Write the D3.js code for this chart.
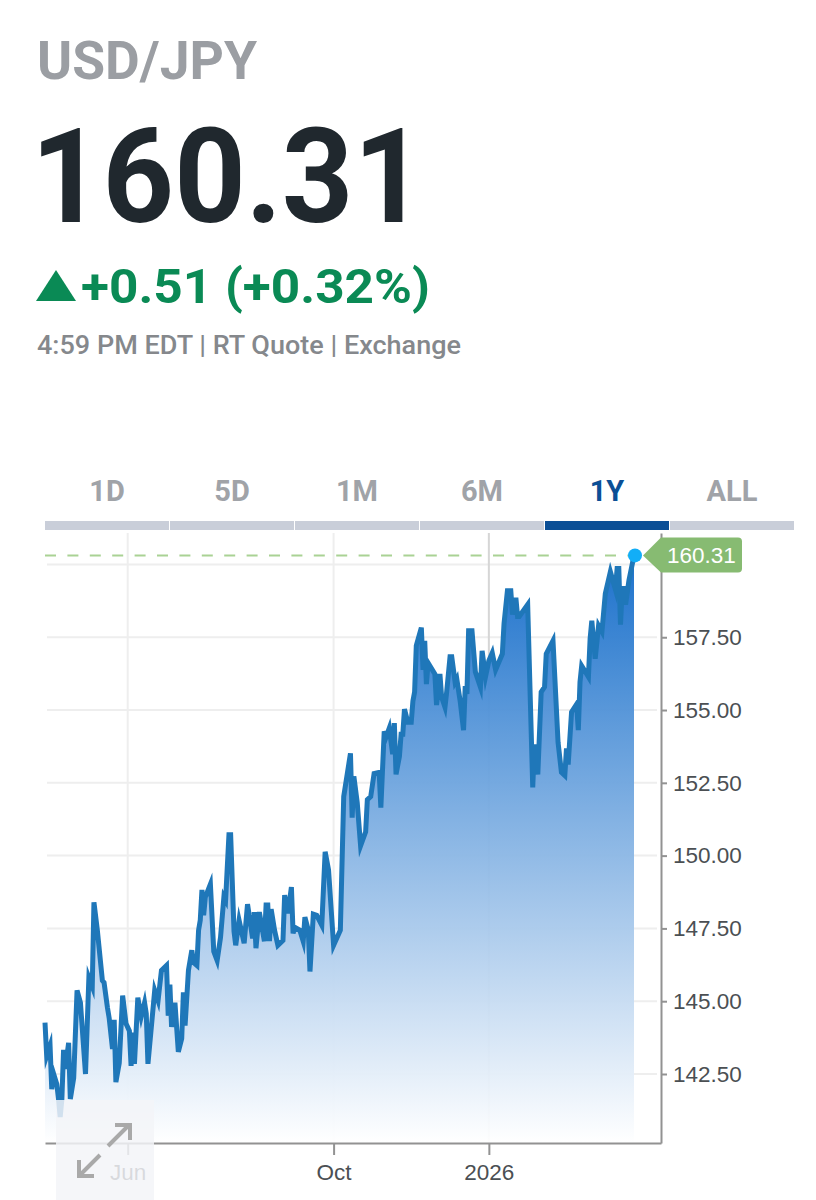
<!DOCTYPE html>
<html>
<head>
<meta charset="utf-8">
<title>USD/JPY</title>
<script src="https://cdn.jsdelivr.net/npm/d3@7"></script>
<style>
  html, body { margin: 0; padding: 0; background: #fff; }
  svg { display: block; }
  .head { font-family: Roboto, sans-serif; }
  .tick-label { font-family: "Liberation Sans", Arial, sans-serif; }
</style>
</head>
<body>
<svg id="chart" width="816" height="1200"></svg>
<script>
// header + tabs
var pair = "USD/JPY";
var lastPrice = "160.31";
var change = "+0.51 (+0.32%)";
var quoteLine = "4:59 PM EDT | RT Quote | Exchange";
var tabs = ["1D", "5D", "1M", "6M", "1Y", "ALL"];
var activeTab = "1Y";

// axes
var yTicks = [142.5, 145, 147.5, 150, 152.5, 155, 157.5];
var yGrid = [142.5, 145, 147.5, 150, 152.5, 155, 157.5, 160];
var xTickDates = ["2025-06-01", "2025-10-01", "2026-01-01"];
var xTickLabels = ["Jun", "Oct", "2026"];

// series
var dates = [
  "2025-04-13","2025-04-14","2025-04-16","2025-04-17","2025-04-18","2025-04-20","2025-04-21","2025-04-22","2025-04-23","2025-04-24",
  "2025-04-25","2025-04-27","2025-04-28","2025-04-30","2025-05-02","2025-05-04","2025-05-07","2025-05-09","2025-05-11","2025-05-12",
  "2025-05-14","2025-05-17","2025-05-18","2025-05-20","2025-05-21","2025-05-23","2025-05-24","2025-05-25","2025-05-27","2025-05-29",
  "2025-05-31","2025-06-02","2025-06-03","2025-06-04","2025-06-05","2025-06-07","2025-06-09","2025-06-11","2025-06-12","2025-06-13",
  "2025-06-17","2025-06-19","2025-06-21","2025-06-24","2025-06-25","2025-06-26","2025-06-27","2025-06-29","2025-07-01","2025-07-03",
  "2025-07-04","2025-07-05","2025-07-07","2025-07-09","2025-07-10","2025-07-12","2025-07-13","2025-07-14","2025-07-15","2025-07-16",
  "2025-07-17","2025-07-20","2025-07-22","2025-07-24","2025-07-26","2025-07-28","2025-07-29","2025-07-31","2025-08-01","2025-08-03",
  "2025-08-04","2025-08-06","2025-08-09","2025-08-11","2025-08-14","2025-08-15","2025-08-16","2025-08-18","2025-08-21","2025-08-22",
  "2025-08-23","2025-08-24","2025-08-25","2025-08-27","2025-08-29","2025-09-01","2025-09-02","2025-09-04","2025-09-06","2025-09-07",
  "2025-09-08","2025-09-11","2025-09-13","2025-09-14","2025-09-16","2025-09-17","2025-09-19","2025-09-21","2025-09-24","2025-09-26",
  "2025-09-28","2025-10-01","2025-10-05","2025-10-07","2025-10-11","2025-10-12","2025-10-13","2025-10-15","2025-10-17","2025-10-20",
  "2025-10-21","2025-10-23","2025-10-25","2025-10-28","2025-10-29","2025-10-31","2025-11-01","2025-11-03","2025-11-05","2025-11-06",
  "2025-11-07","2025-11-09","2025-11-10","2025-11-11","2025-11-12","2025-11-14","2025-11-16","2025-11-17","2025-11-18","2025-11-19",
  "2025-11-22","2025-11-23","2025-11-24","2025-11-25","2025-11-26","2025-11-30","2025-12-01","2025-12-03","2025-12-04","2025-12-06",
  "2025-12-07","2025-12-09","2025-12-10","2025-12-12","2025-12-13","2025-12-15","2025-12-17","2025-12-18","2025-12-19","2025-12-20",
  "2025-12-22","2025-12-24","2025-12-27","2025-12-28","2025-12-30","2026-01-01","2026-01-03","2026-01-05","2026-01-09","2026-01-10",
  "2026-01-12","2026-01-14","2026-01-15","2026-01-17","2026-01-18","2026-01-19","2026-01-24","2026-01-27","2026-01-28","2026-01-30",
  "2026-02-01","2026-02-03","2026-02-04","2026-02-08","2026-02-11","2026-02-13","2026-02-15","2026-02-16","2026-02-17","2026-02-19",
  "2026-02-22","2026-02-23","2026-02-24","2026-02-25","2026-03-01","2026-03-02","2026-03-03","2026-03-05","2026-03-07","2026-03-09",
  "2026-03-11","2026-03-14","2026-03-17","2026-03-18","2026-03-19","2026-03-20","2026-03-21","2026-03-22","2026-03-23","2026-03-25",
  "2026-03-28"
];
var rates = [
  144.26,143.12,143.47,141.98,142.53,142.15,141.64,141.02,141.64,143.33,
  142.67,143.57,141.64,142.36,145.37,144.95,142.50,145.81,145.50,148.40,
  147.44,145.71,145.64,144.78,144.43,143.36,144.36,142.22,142.88,145.19,
  144.23,143.98,142.78,143.92,142.85,145.12,144.47,144.95,144.57,142.85,
  145.37,145.02,146.06,146.23,144.50,145.57,144.12,144.95,143.26,143.71,
  145.30,144.16,146.06,146.75,146.33,146.23,147.44,147.78,148.82,147.95,
  148.58,149.02,146.71,146.40,147.19,148.58,148.47,150.72,150.72,147.40,
  146.92,147.78,146.99,148.33,147.16,148.06,146.82,148.06,147.06,148.30,
  148.30,147.06,148.16,147.44,146.92,147.09,148.64,148.02,148.92,147.33,
  147.54,147.44,147.06,147.89,147.44,146.02,147.99,147.95,147.61,150.13,
  149.51,146.92,147.44,152.03,153.51,151.30,152.72,151.82,150.34,150.82,
  151.92,152.03,152.82,152.86,151.65,154.27,154.06,154.38,153.48,154.55,
  152.79,153.41,154.17,154.17,155.03,154.58,154.58,155.31,155.62,157.21,
  157.83,156.38,157.38,155.89,156.62,156.24,155.17,156.24,155.45,155.10,
  155.62,156.83,156.83,155.96,156.07,155.31,154.31,155.82,155.55,157.72,
  157.72,156.31,155.79,157.03,156.14,156.69,156.96,156.38,156.93,157.97,
  159.10,159.10,158.28,158.86,158.21,158.21,158.62,152.34,153.82,152.79,
  155.62,155.79,156.93,157.38,153.89,152.86,152.75,153.68,153.13,154.93,
  155.20,154.31,155.96,156.52,156.14,157.45,158.07,156.76,157.90,157.69,
  159.00,159.75,159.14,159.86,159.86,157.93,159.17,159.17,158.62,159.45,
  160.31
];

var parseDate = d3.utcParse("%Y-%m-%d");
var series = dates.map(function (d, i) {
  return { date: parseDate(d), rate: rates[i] };
});

var svg = d3.select("#chart");

// plot frame
var plot = { left: 45, lastX: 634, right: 661, top: 533, bottom: 1143 };

var x = d3.scaleUtc()
  .domain([series[0].date, series[series.length - 1].date])
  .range([plot.left, plot.lastX]);

var y = d3.scaleLinear()
  .domain([140.13, 161.08])
  .range([plot.bottom, plot.top]);

/*
  NAME: drawHeader
  DESCRIPTION: pair name, big quote, change line and the quote source
               textLength pins the widths because the fonts differ a bit
*/
function drawHeader() {
  var head = svg.append("g").attr("class", "head");

  head.append("text").attr("x", 37).attr("y", 79)
    .attr("font-size", 54).attr("font-weight", 700).attr("fill", "#9b9ea3")
    .attr("textLength", 220).attr("lengthAdjust", "spacingAndGlyphs")
    .text(pair);

  head.append("text").attr("x", 31).attr("y", 222)
    .attr("font-size", 132).attr("font-weight", 700).attr("fill", "#20282e")
    .attr("textLength", 394).attr("lengthAdjust", "spacingAndGlyphs")
    .text(lastPrice);

  head.append("path")
    .attr("d", "M36,301L56,270L76,301Z")
    .attr("fill", "#0a8a55");

  head.append("text").attr("x", 81).attr("y", 303)
    .attr("font-size", 49).attr("font-weight", 700).attr("fill", "#0a8a55")
    .attr("textLength", 349).attr("lengthAdjust", "spacingAndGlyphs")
    .text(change);

  head.append("text").attr("x", 37).attr("y", 354)
    .attr("font-size", 25).attr("font-weight", 500).attr("fill", "#85888c")
    .attr("textLength", 424).attr("lengthAdjust", "spacingAndGlyphs")
    .text(quoteLine);
}

/*
  NAME: drawTabs
  DESCRIPTION: range selector row above the chart
*/
function drawTabs() {
  var tabWidth = 125;
  var row = svg.append("g").attr("class", "head");

  tabs.forEach(function (t, i) {
    var isActive = t === activeTab;
    row.append("rect")
      .attr("x", 45 + i * tabWidth)
      .attr("y", 521)
      .attr("width", tabWidth - 1)
      .attr("height", 9)
      .attr("fill", isActive ? "#0b4f96" : "#c9ced9");

    row.append("text")
      .attr("x", 107 + i * tabWidth)
      .attr("y", 501)
      .attr("text-anchor", "middle")
      .attr("font-size", 29)
      .attr("font-weight", 700)
      .attr("fill", isActive ? "#0b4f96" : "#a0a3a8")
      .text(t);
  });
}

/*
  NAME: drawGrid
  DESCRIPTION: horizontal and vertical grid lines, under the area
*/
function drawGrid() {
  svg.append("g").selectAll("line").data(yGrid).join("line")
    .attr("x1", 47).attr("x2", plot.right - 4)
    .attr("y1", function (d) { return y(d); })
    .attr("y2", function (d) { return y(d); })
    .attr("stroke", "#eeeeee").attr("stroke-width", 2);

  svg.append("g").selectAll("line").data(xTickDates).join("line")
    .attr("x1", function (d) { return x(parseDate(d)); })
    .attr("x2", function (d) { return x(parseDate(d)); })
    .attr("y1", plot.top).attr("y2", plot.bottom)
    .attr("stroke", function (d, i) { return i === 2 ? "#d6d6d6" : "#eeeeee"; })
    .attr("stroke-width", 2);
}

/*
  NAME: drawSeries
  DESCRIPTION: gradient area and the thick line on top
*/
function drawSeries() {
  var grad = svg.append("defs").append("linearGradient")
    .attr("id", "areaFade")
    .attr("gradientUnits", "userSpaceOnUse")
    .attr("x1", 0).attr("x2", 0)
    .attr("y1", y(160.31)).attr("y2", plot.bottom);
  grad.append("stop").attr("offset", 0).attr("stop-color", "#156dca").attr("stop-opacity", 0.97);
  grad.append("stop").attr("offset", 1).attr("stop-color", "#ffffff").attr("stop-opacity", 0.95);

  var area = d3.area()
    .x(function (d) { return x(d.date); })
    .y0(plot.bottom)
    .y1(function (d) { return y(d.rate); });

  var line = d3.line()
    .x(function (d) { return x(d.date); })
    .y(function (d) { return y(d.rate); });

  svg.append("path").datum(series).attr("d", area).attr("fill", "url(#areaFade)");

  svg.append("path").datum(series).attr("d", line)
    .attr("fill", "none")
    .attr("stroke", "#1f77b9")
    .attr("stroke-width", 5)
    .attr("stroke-linejoin", "miter")
    .attr("stroke-miterlimit", 6);
}

/*
  NAME: drawAxes
  DESCRIPTION: right value axis and bottom date axis via d3.axis
*/
function drawAxes() {
  var axisRight = d3.axisRight(y)
    .tickValues(yTicks)
    .tickSizeInner(6)
    .tickSizeOuter(0)
    .tickPadding(6)
    .tickFormat(d3.format(".2f"));

  var gy = svg.append("g")
    .attr("transform", "translate(" + plot.right + ",0)")
    .call(axisRight);

  var axisBottom = d3.axisBottom(x.copy().domain([x.invert(plot.left), x.invert(plot.right)]).range([plot.left, plot.right]))
    .tickValues(xTickDates.map(parseDate))
    .tickSizeInner(12)
    .tickSizeOuter(0)
    .tickPadding(9)
    .tickFormat(function (d, i) { return xTickLabels[i]; });

  var gx = svg.append("g")
    .attr("transform", "translate(0," + plot.bottom + ")")
    .call(axisBottom);

  [gy, gx].forEach(function (g) {
    g.selectAll(".domain").attr("stroke", "#929292").attr("stroke-width", 2);
    g.selectAll(".tick line").attr("stroke", "#929292").attr("stroke-width", 2);
    g.selectAll(".tick text")
      .attr("class", "tick-label")
      .attr("font-size", 22.5)
      .attr("fill", "#4b4f53");
  });
}

/*
  NAME: drawLastPrice
  DESCRIPTION: dashed level line, end dot and the green price flag
*/
function drawLastPrice() {
  var yLast = y(160.31);

  svg.append("line")
    .attr("x1", plot.left).attr("x2", plot.lastX)
    .attr("y1", yLast).attr("y2", yLast)
    .attr("stroke", "#a9d294").attr("stroke-width", 2)
    .attr("stroke-dasharray", "11,11.4");

  svg.append("circle")
    .attr("cx", plot.lastX + 1).attr("cy", yLast).attr("r", 7)
    .attr("fill", "#12aef7");

  var flag = d3.path();
  flag.moveTo(643, yLast);
  flag.lineTo(661, yLast - 18);
  flag.lineTo(738, yLast - 18);
  flag.quadraticCurveTo(742, yLast - 18, 742, yLast - 14);
  flag.lineTo(742, yLast + 13);
  flag.quadraticCurveTo(742, yLast + 17, 738, yLast + 17);
  flag.lineTo(661, yLast + 17);
  flag.closePath();
  svg.append("path").attr("d", flag.toString()).attr("fill", "#87bb72");

  svg.append("text")
    .attr("class", "tick-label")
    .attr("x", 667).attr("y", yLast + 8)
    .attr("font-size", 22.5)
    .attr("fill", "#ffffff")
    .text(lastPrice);
}

/*
  NAME: drawExpandButton
  DESCRIPTION: pale translucent box with the two arrows, bottom left
*/
function drawExpandButton() {
  svg.append("rect")
    .attr("x", 56).attr("y", 1100)
    .attr("width", 98).attr("height", 100)
    .attr("fill", "#f3f4f8").attr("fill-opacity", 0.84);

  svg.append("path")
    .attr("d", "M108,1146L129,1125M115,1125L130,1125L130,1140M100,1155L79,1176M79,1160L79,1176L94,1176")
    .attr("fill", "none")
    .attr("stroke", "#a9a9a9")
    .attr("stroke-width", 4);
}

drawHeader();
drawTabs();
drawGrid();
drawSeries();
drawAxes();
drawLastPrice();
drawExpandButton();
</script>
</body>
</html>
